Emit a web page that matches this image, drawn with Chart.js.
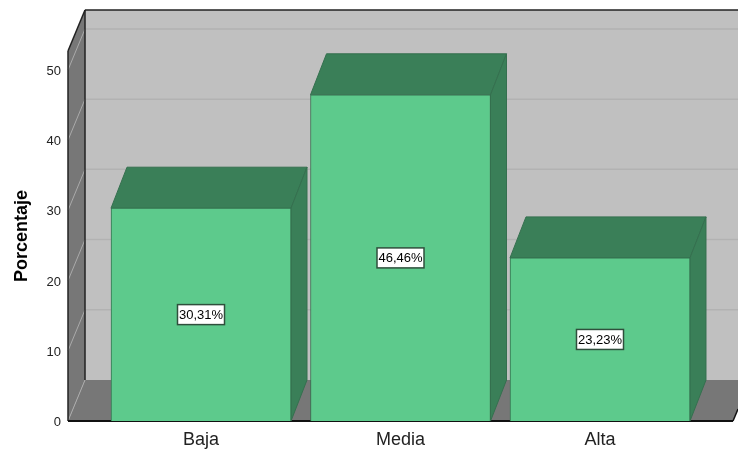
<!DOCTYPE html>
<html>
<head>
<meta charset="utf-8">
<title>Porcentaje</title>
<script src="https://cdn.jsdelivr.net/npm/chart.js@4"></script>
<style>
  html, body { margin: 0; padding: 0; background: #fff; }
  canvas { display: block; }
</style>
</head>
<body>
<canvas id="myChart" width="738" height="450"></canvas>
<script>
'use strict';

let categories = ['Baja', 'Media', 'Alta'];
let percentages = [30.31, 46.46, 23.23];
let percentLabels = ['30,31%', '46,46%', '23,23%'];
let yTicks = [0, 10, 20, 30, 40, 50];

// depth of the fake 3d box
let depthX = 17;
let depthY = -41;
let barDepthX = 16;
let barDepthY = -41;

function polygon(ctx, points, fill, stroke) {
  ctx.beginPath();
  ctx.moveTo(points[0][0], points[0][1]);
  for (let i = 1; i < points.length; i++) {
    ctx.lineTo(points[i][0], points[i][1]);
  }
  ctx.closePath();
  ctx.fillStyle = fill;
  ctx.fill();
  if (stroke) {
    ctx.strokeStyle = stroke;
    ctx.lineWidth = 1;
    ctx.stroke();
  }
}

function line(ctx, x1, y1, x2, y2, color, width) {
  ctx.beginPath();
  ctx.moveTo(x1, y1);
  ctx.lineTo(x2, y2);
  ctx.strokeStyle = color;
  ctx.lineWidth = width;
  ctx.stroke();
}

let box3d = {
  id: 'box3d',
  beforeDatasetsDraw(chart) {
    let ctx = chart.ctx;
    let area = chart.chartArea;
    let y = chart.scales.y;
    let l = area.left, r = area.right, t = area.top, b = area.bottom;

    ctx.save();
    // back wall, side wall, floor
    polygon(ctx, [[l + depthX, t + depthY], [738, t + depthY], [738, b + depthY], [l + depthX, b + depthY]], '#c0c0c0');
    polygon(ctx, [[l, t], [l + depthX, t + depthY], [l + depthX, b + depthY], [l, b]], '#777777');
    polygon(ctx, [[l, b], [l + depthX, b + depthY], [738, b + depthY], [738, b - 12], [r, b]], '#777777');

    // grid lines
    yTicks.forEach(function(tick) {
      let py = y.getPixelForValue(tick);
      line(ctx, l, py, l + depthX, py + depthY, '#aaaaaa', 1);
      if (tick > 0) {
        line(ctx, l + depthX, py + depthY, 738, py + depthY, '#b2b2b2', 1.5);
      }
    });

    // edges
    line(ctx, l, b, l, t, '#222222', 1.5);
    line(ctx, l, t, l + depthX, t + depthY, '#222222', 1.5);
    line(ctx, l + depthX, t + depthY, l + depthX, b + depthY, '#222222', 1.5);
    line(ctx, l + depthX, t + depthY, 738, t + depthY, '#222222', 1.5);
    line(ctx, l, b, r, b, '#111111', 2);
    line(ctx, r, b, 738, b - 12, '#111111', 1.5);

    // top and side of every bar
    chart.getDatasetMeta(0).data.forEach(function(bar) {
      let left = bar.x - bar.width / 2;
      let right = bar.x + bar.width / 2;
      polygon(ctx, [[left, bar.y], [left + barDepthX, bar.y + barDepthY], [right + barDepthX, bar.y + barDepthY], [right, bar.y]], '#3a7f58', '#35704f');
      polygon(ctx, [[right, bar.y], [right + barDepthX, bar.y + barDepthY], [right + barDepthX, bar.base + barDepthY], [right, bar.base]], '#3a7f58', '#35704f');
    });
    ctx.restore();
  },
  afterDatasetsDraw(chart) {
    let ctx = chart.ctx;
    ctx.save();
    ctx.font = '13px "Liberation Sans", Arial, sans-serif';
    ctx.textAlign = 'center';
    ctx.textBaseline = 'middle';
    chart.getDatasetMeta(0).data.forEach(function(bar, i) {
      let cy = (bar.y + bar.base) / 2;
      let w = 47;
      let h = 20;
      ctx.fillStyle = '#ffffff';
      ctx.fillRect(bar.x - w / 2, cy - h / 2, w, h);
      ctx.strokeStyle = '#2f4f3c';
      ctx.lineWidth = 1.5;
      ctx.strokeRect(bar.x - w / 2, cy - h / 2, w, h);
      ctx.fillStyle = '#000000';
      ctx.fillText(percentLabels[i], bar.x, cy + 0.5);
    });
    ctx.restore();
  }
};

let points = [];
for (let i = 0; i < categories.length; i++) {
  points.push({ x: i, y: percentages[i] });
}

let chartObject = {
  type: 'bar',
  data: {
    datasets: [{
      label: 'Porcentaje',
      data: points,
      backgroundColor: '#5dca8c',
      borderColor: '#35704f',
      borderWidth: { top: 1, left: 1, right: 1, bottom: 0 },
      barThickness: 180
    }]
  },
  options: {
    responsive: false,
    animation: false,
    layout: { padding: { top: 51, right: 5 } },
    plugins: {
      legend: { display: false },
      tooltip: { enabled: false }
    },
    scales: {
      x: {
        type: 'linear',
        offset: false,
        min: -0.6667,
        max: 2.6667,
        grid: { display: false, drawTicks: false },
        border: { display: false },
        afterBuildTicks: function(axis) {
          axis.ticks = categories.map(function(c, i) { return { value: i }; });
        },
        afterFit: function(axis) { axis.height = 29; },
        ticks: {
          autoSkip: false,
          maxRotation: 0,
          padding: 8,
          color: '#222222',
          font: { family: '"Liberation Sans", Arial, sans-serif', size: 18 },
          callback: function(value) { return categories[value]; }
        }
      },
      y: {
        min: 0,
        max: 52.7,
        grid: { display: false, drawTicks: false },
        border: { display: false },
        afterBuildTicks: function(axis) {
          axis.ticks = yTicks.map(function(v) { return { value: v }; });
        },
        afterFit: function(axis) { axis.width = 68; },
        title: {
          display: true,
          text: 'Porcentaje',
          color: '#000000',
          padding: { top: 11, bottom: 0 },
          font: { family: '"Liberation Sans", Arial, sans-serif', size: 18, weight: 'bold' }
        },
        ticks: {
          padding: 7,
          color: '#222222',
          // empty first line and a small line height push the label down a little
          font: { family: '"Liberation Sans", Arial, sans-serif', size: 13, lineHeight: '3px' },
          callback: function(value) { return ['', String(value)]; }
        }
      }
    }
  },
  plugins: [box3d]
};

let ctx = document.getElementById('myChart').getContext('2d');
let myChart = new Chart(ctx, chartObject);
</script>
</body>
</html>
